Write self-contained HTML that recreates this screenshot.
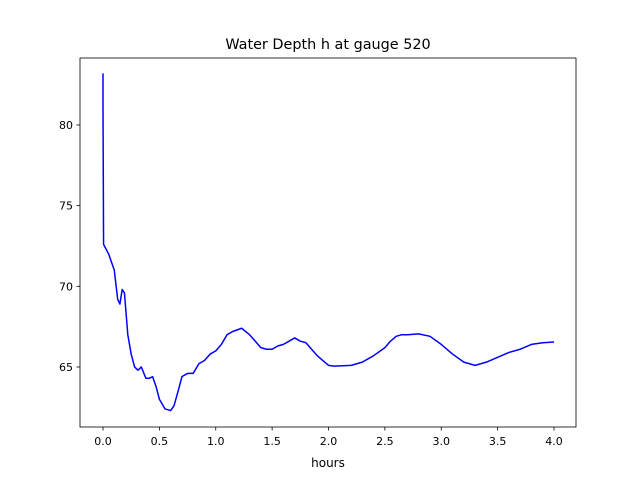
<!DOCTYPE html>
<html><head><meta charset="utf-8"><style>
body{margin:0;background:#fff;font-family:"Liberation Sans","DejaVu Sans",sans-serif;}
svg text{font-family:"DejaVu Sans","Liberation Sans",sans-serif;}
</style></head><body>
<svg id="chart" width="640" height="480" xmlns="http://www.w3.org/2000/svg">
<rect width="640" height="480" fill="#fff"/>
<text x="328" y="49" text-anchor="middle" font-size="14.4">Water Depth h at gauge 520</text>
<g id="plot"></g>
<rect x="80" y="58" width="496" height="369" fill="none" stroke="#000" stroke-width="0.8"/>
<text x="328" y="467" text-anchor="middle" font-size="12">hours</text>
</svg>
<script>
const hours=[0,0,0.005,0.05,0.1,0.13,0.15,0.17,0.19,0.22,0.25,0.28,0.31,0.34,0.38,0.41,0.44,0.47,0.5,0.55,0.6,0.63,0.67,0.7,0.75,0.8,0.85,0.9,0.95,1.0,1.05,1.1,1.15,1.23,1.3,1.35,1.4,1.45,1.5,1.55,1.6,1.65,1.7,1.75,1.8,1.85,1.9,1.95,2.0,2.05,2.2,2.3,2.4,2.5,2.55,2.6,2.65,2.7,2.8,2.9,3.0,3.1,3.2,3.3,3.4,3.5,3.6,3.7,3.8,3.9,4.0];
const depth=[83.2,81.2,72.6,72.0,71.0,69.2,68.9,69.8,69.6,67.0,65.8,65.0,64.8,65.0,64.3,64.3,64.4,63.8,63.0,62.4,62.3,62.6,63.6,64.4,64.6,64.6,65.2,65.4,65.8,66.0,66.4,67.0,67.2,67.4,67.0,66.6,66.2,66.1,66.1,66.3,66.4,66.6,66.8,66.6,66.5,66.1,65.7,65.4,65.1,65.05,65.1,65.3,65.7,66.2,66.6,66.9,67.0,67.0,67.05,66.9,66.4,65.8,65.3,65.1,65.3,65.6,65.9,66.1,66.4,66.5,66.55];
const xTicks=[0,0.5,1.0,1.5,2.0,2.5,3.0,3.5,4.0];
const xTickLabels=["0.0","0.5","1.0","1.5","2.0","2.5","3.0","3.5","4.0"];
const yTicks=[65,70,75,80];
const yTickLabels=["65","70","75","80"];
const L=80,R=576,T=58,B=427,xMin=-0.204,xMax=4.195,yMin=61.28,yMax=84.15;
const sx=v=>L+(v-xMin)/(xMax-xMin)*(R-L);
const sy=v=>B-(v-yMin)/(yMax-yMin)*(B-T);
const NS="http://www.w3.org/2000/svg",g=document.getElementById('plot');
function mk(t,a){const e=document.createElementNS(NS,t);for(const k in a)e.setAttribute(k,a[k]);g.appendChild(e);return e;}
xTicks.forEach((v,i)=>{
 const l=mk('line',{x1:sx(v),x2:sx(v),y1:B,y2:B+3.5,stroke:'#000','stroke-width':0.8});
 
 
 const t=mk('text',{x:sx(v),y:B+18,'text-anchor':'middle','font-size':11});
 t.textContent=xTickLabels[i];
 
 
});
yTicks.forEach((v,i)=>{
 const l=mk('line',{x1:L-3.5,x2:L,y1:sy(v),y2:sy(v),stroke:'#000','stroke-width':0.8});
 
 
 const t=mk('text',{x:L-7,y:sy(v)+4,'text-anchor':'end','font-size':11});
 t.textContent=yTickLabels[i];
 
 
});
const p=mk('polyline',{points:hours.map((h,i)=>sx(h)+','+sy(depth[i])).join(' '),fill:'none',stroke:'#0000ff','stroke-width':1.5,'stroke-linejoin':'round'});


</script>
</body></html>
